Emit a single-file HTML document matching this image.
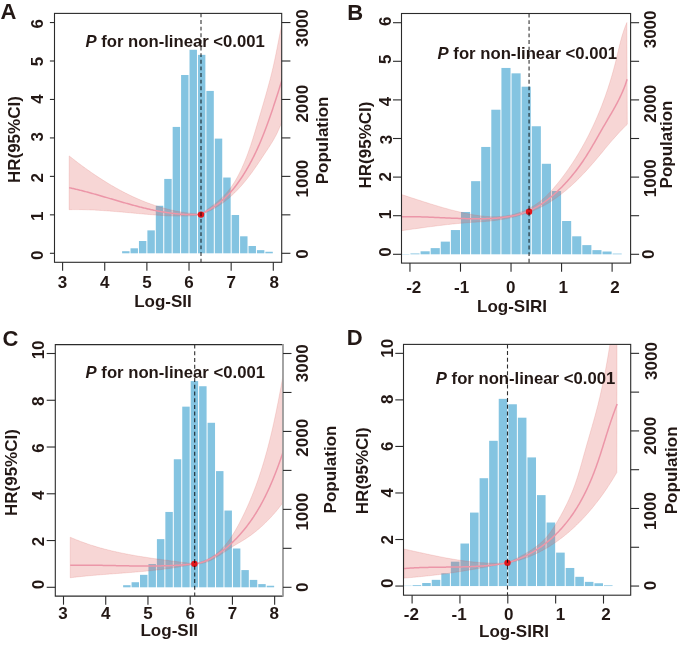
<!DOCTYPE html>
<html><head><meta charset="utf-8"><style>
html,body{margin:0;padding:0;background:#fff;}
svg{display:block;filter:blur(0.35px);}
text{font-family:"Liberation Sans",sans-serif;font-weight:bold;fill:#231815;}
</style></head><body>
<svg width="685" height="645" viewBox="0 0 685 645">
<rect width="685" height="645" fill="#fff"/>
<defs>
<clipPath id="clipA"><rect x="54.5" y="13.4" width="227.2" height="248.9"/></clipPath>
<clipPath id="clipB"><rect x="401.5" y="13.5" width="229.1" height="249.6"/></clipPath>
<clipPath id="clipC"><rect x="55.3" y="344.6" width="227.7" height="251.5"/></clipPath>
<clipPath id="clipD"><rect x="403.5" y="344.4" width="227.2" height="250.8"/></clipPath>
</defs>
<g clip-path="url(#clipA)">
<rect x="122.1" y="251.22" width="7.43" height="2.08" fill="#84c4e1"/>
<rect x="130.52" y="248.3" width="7.43" height="5" fill="#84c4e1"/>
<rect x="138.95" y="240.99" width="7.43" height="12.31" fill="#84c4e1"/>
<rect x="147.38" y="230.38" width="7.43" height="22.92" fill="#84c4e1"/>
<rect x="155.81" y="205.76" width="7.43" height="47.54" fill="#84c4e1"/>
<rect x="164.24" y="178.92" width="7.43" height="74.38" fill="#84c4e1"/>
<rect x="172.66" y="126.92" width="7.43" height="126.38" fill="#84c4e1"/>
<rect x="181.09" y="75" width="7.43" height="178.3" fill="#84c4e1"/>
<rect x="189.52" y="49.77" width="7.43" height="203.53" fill="#84c4e1"/>
<rect x="197.95" y="54.85" width="7.43" height="198.45" fill="#84c4e1"/>
<rect x="206.38" y="90.92" width="7.43" height="162.38" fill="#84c4e1"/>
<rect x="214.8" y="138.61" width="7.43" height="114.69" fill="#84c4e1"/>
<rect x="223.23" y="177.53" width="7.43" height="75.77" fill="#84c4e1"/>
<rect x="231.66" y="214.99" width="7.43" height="38.31" fill="#84c4e1"/>
<rect x="240.09" y="236.3" width="7.43" height="17" fill="#84c4e1"/>
<rect x="248.52" y="245.99" width="7.43" height="7.31" fill="#84c4e1"/>
<rect x="256.94" y="250.15" width="7.43" height="3.15" fill="#84c4e1"/>
<rect x="265.37" y="251.76" width="7.43" height="1.54" fill="#84c4e1"/>
<polygon points="69.17,155.9 69.89,156.47 70.61,157.04 71.33,157.61 72.05,158.17 72.78,158.74 73.5,159.3 74.23,159.87 74.96,160.43 75.69,160.99 76.42,161.55 77.15,162.11 77.89,162.66 78.62,163.22 79.36,163.77 80.1,164.33 80.84,164.88 81.58,165.43 82.32,165.98 83.07,166.52 83.81,167.07 84.56,167.61 85.31,168.15 86.06,168.69 86.81,169.23 87.56,169.77 88.31,170.3 89.07,170.84 89.83,171.37 90.58,171.9 91.34,172.43 92.1,172.95 92.87,173.48 93.63,174 94.4,174.52 95.16,175.04 95.93,175.55 96.7,176.07 97.47,176.58 98.24,177.09 99.02,177.6 99.79,178.1 100.57,178.61 101.35,179.11 102.12,179.61 102.91,180.1 103.69,180.6 104.47,181.09 105.26,181.58 106.04,182.07 106.83,182.55 107.62,183.03 108.41,183.51 109.2,183.99 110,184.46 110.79,184.94 111.59,185.4 112.38,185.87 113.18,186.34 113.98,186.8 114.79,187.25 115.59,187.71 116.39,188.16 117.2,188.61 118.01,189.06 118.82,189.5 119.63,189.95 120.44,190.38 121.25,190.82 122.07,191.25 122.88,191.68 123.7,192.11 124.52,192.53 125.34,192.95 126.16,193.37 126.98,193.78 127.81,194.19 128.64,194.6 129.46,195 130.29,195.4 131.12,195.8 131.95,196.19 132.79,196.58 133.62,196.97 134.46,197.35 135.3,197.73 136.13,198.11 136.97,198.48 137.82,198.85 138.66,199.21 139.5,199.58 140.35,199.93 141.2,200.29 142.05,200.64 142.9,200.99 143.75,201.33 144.6,201.67 145.46,202 146.31,202.33 147.17,202.66 148.03,202.99 148.89,203.31 149.75,203.62 150.61,203.93 151.48,204.24 152.34,204.54 153.21,204.84 154.08,205.14 154.95,205.43 155.82,205.72 156.7,206 157.57,206.28 158.45,206.55 159.32,206.82 160.2,207.09 161.08,207.35 161.96,207.6 162.85,207.86 163.73,208.11 164.62,208.35 165.5,208.59 166.39,208.82 167.28,209.05 168.17,209.28 169.07,209.5 169.96,209.72 170.85,209.93 171.75,210.14 172.65,210.34 173.55,210.54 174.45,210.73 175.35,210.92 176.25,211.1 177.16,211.28 178.07,211.46 178.97,211.63 179.88,211.79 180.79,211.95 181.7,212.11 182.62,212.26 183.53,212.4 184.44,212.54 185.36,212.68 186.28,212.81 187.2,212.93 188.12,213.05 189.04,213.17 189.96,213.28 190.89,213.38 191.81,213.48 192.74,213.58 193.67,213.67 194.6,213.75 195.53,213.83 196.46,213.91 197.4,213.97 198.33,214.04 199.27,214.09 200.2,214.15 201.14,214.19 202,213.5 203.1,212.63 204.22,211.76 205.35,210.91 206.48,210.05 207.61,209.21 208.75,208.36 209.89,207.51 211.02,206.67 212.16,205.81 213.28,204.96 214.41,204.09 215.52,203.22 216.62,202.34 217.71,201.44 218.78,200.53 219.84,199.6 220.89,198.66 221.91,197.7 222.92,196.73 223.91,195.73 224.88,194.72 225.84,193.69 226.77,192.65 227.68,191.58 228.57,190.5 229.44,189.39 230.28,188.27 231.11,187.13 231.92,185.98 232.71,184.81 233.48,183.62 234.23,182.43 234.97,181.22 235.69,180 236.4,178.77 237.09,177.53 237.77,176.28 238.43,175.02 239.09,173.76 239.73,172.49 240.36,171.21 240.97,169.93 241.58,168.64 242.17,167.35 242.75,166.06 243.32,164.75 243.88,163.45 244.44,162.14 244.98,160.83 245.51,159.51 246.03,158.2 246.54,156.88 247.05,155.55 247.55,154.23 248.04,152.9 248.52,151.57 248.99,150.24 249.46,148.91 249.92,147.57 250.38,146.23 250.83,144.89 251.27,143.55 251.71,142.21 252.14,140.87 252.57,139.52 253,138.17 253.42,136.83 253.83,135.48 254.25,134.13 254.66,132.78 255.07,131.42 255.48,130.07 255.88,128.72 256.28,127.36 256.69,126.01 257.09,124.65 257.49,123.3 257.89,121.94 258.29,120.59 258.69,119.23 259.09,117.87 259.49,116.52 259.9,115.16 260.3,113.8 260.7,112.45 261.1,111.09 261.5,109.73 261.9,108.38 262.3,107.02 262.7,105.66 263.1,104.3 263.5,102.94 263.9,101.58 264.29,100.22 264.69,98.86 265.08,97.5 265.47,96.14 265.86,94.78 266.25,93.42 266.63,92.06 267.01,90.69 267.39,89.33 267.77,87.97 268.14,86.6 268.52,85.24 268.88,83.87 269.25,82.5 269.61,81.13 269.97,79.77 270.33,78.4 270.68,77.02 271.02,75.65 271.37,74.28 271.71,72.91 272.04,71.53 272.37,70.16 272.7,68.78 273.02,67.4 273.34,66.03 273.65,64.65 273.96,63.27 274.26,61.88 274.56,60.5 274.85,59.12 275.14,57.74 275.43,56.35 275.71,54.96 276,53.58 276.28,52.19 276.55,50.81 276.83,49.42 277.1,48.03 277.37,46.64 277.64,45.25 277.91,43.86 278.18,42.47 278.45,41.09 278.72,39.7 278.99,38.31 279.26,36.92 279.53,35.53 279.8,34.14 280.07,32.75 280.35,31.37 280.62,29.98 280.9,28.59 281.18,27.2 281.46,25.82 281.75,24.43 282.04,23.05 282.33,21.66 282.63,20.28 282.93,18.9 283.23,17.52 283.54,16.13 283.85,14.75 284.17,13.38 284.49,12 284.38,114.93 284.11,115.74 283.83,116.54 283.55,117.34 283.28,118.14 282.99,118.94 282.71,119.74 282.42,120.53 282.12,121.32 281.83,122.11 281.53,122.9 281.22,123.68 280.91,124.46 280.6,125.24 280.28,126.02 279.96,126.79 279.63,127.56 279.3,128.33 278.96,129.1 278.62,129.86 278.27,130.62 277.92,131.38 277.57,132.14 277.21,132.89 276.84,133.64 276.47,134.38 276.09,135.13 275.71,135.87 275.32,136.61 274.92,137.34 274.52,138.07 274.12,138.8 273.7,139.52 273.29,140.25 272.86,140.97 272.43,141.68 272,142.4 271.57,143.11 271.13,143.82 270.68,144.53 270.23,145.23 269.78,145.94 269.33,146.64 268.88,147.35 268.42,148.05 267.96,148.75 267.5,149.45 267.04,150.15 266.57,150.85 266.11,151.55 265.65,152.24 265.18,152.94 264.72,153.64 264.26,154.34 263.79,155.04 263.33,155.74 262.87,156.44 262.4,157.14 261.94,157.84 261.48,158.54 261.01,159.24 260.55,159.94 260.08,160.64 259.61,161.34 259.15,162.04 258.68,162.73 258.21,163.43 257.74,164.13 257.27,164.82 256.79,165.51 256.32,166.21 255.84,166.9 255.36,167.59 254.88,168.28 254.4,168.97 253.92,169.66 253.43,170.34 252.94,171.03 252.45,171.71 251.96,172.39 251.47,173.07 250.97,173.75 250.47,174.43 249.97,175.1 249.46,175.77 248.95,176.44 248.44,177.11 247.93,177.78 247.41,178.44 246.89,179.1 246.36,179.76 245.84,180.42 245.31,181.07 244.77,181.72 244.24,182.37 243.7,183.01 243.15,183.66 242.61,184.3 242.05,184.93 241.5,185.56 240.94,186.19 240.38,186.82 239.82,187.44 239.25,188.06 238.68,188.68 238.11,189.29 237.53,189.9 236.95,190.5 236.36,191.1 235.77,191.7 235.18,192.29 234.58,192.88 233.98,193.46 233.38,194.04 232.77,194.61 232.16,195.18 231.54,195.75 230.92,196.31 230.29,196.87 229.67,197.42 229.03,197.96 228.4,198.5 227.76,199.04 227.11,199.57 226.47,200.1 225.81,200.62 225.16,201.13 224.49,201.64 223.83,202.14 223.16,202.64 222.48,203.13 221.81,203.61 221.12,204.09 220.44,204.57 219.74,205.03 219.05,205.5 218.35,205.95 217.64,206.4 216.93,206.84 216.22,207.27 215.5,207.7 214.77,208.12 214.05,208.54 213.31,208.95 212.58,209.35 211.83,209.74 211.08,210.13 210.33,210.51 209.58,210.88 208.81,211.24 208.05,211.6 207.27,211.95 206.5,212.29 205.71,212.62 204.93,212.95 204.14,213.27 203.34,213.58 202.54,213.88 201.73,214.17 201.03,214.89 200.2,214.99 199.37,215.09 198.54,215.18 197.72,215.26 196.89,215.35 196.06,215.42 195.23,215.5 194.4,215.56 193.58,215.63 192.75,215.69 191.92,215.74 191.09,215.79 190.26,215.84 189.44,215.88 188.61,215.92 187.78,215.96 186.95,215.99 186.12,216.02 185.29,216.04 184.46,216.06 183.64,216.08 182.81,216.09 181.98,216.1 181.15,216.11 180.32,216.11 179.49,216.11 178.66,216.11 177.84,216.1 177.01,216.09 176.18,216.08 175.35,216.06 174.52,216.05 173.69,216.03 172.86,216 172.03,215.98 171.2,215.95 170.38,215.92 169.55,215.89 168.72,215.85 167.89,215.81 167.06,215.77 166.23,215.73 165.4,215.69 164.57,215.64 163.74,215.59 162.91,215.55 162.08,215.49 161.25,215.44 160.43,215.39 159.6,215.33 158.77,215.27 157.94,215.21 157.11,215.15 156.28,215.09 155.45,215.03 154.62,214.97 153.79,214.9 152.96,214.84 152.13,214.77 151.3,214.7 150.47,214.63 149.64,214.57 148.82,214.5 147.99,214.43 147.16,214.36 146.33,214.28 145.5,214.21 144.67,214.14 143.84,214.07 143.01,213.99 142.18,213.92 141.35,213.85 140.52,213.77 139.69,213.7 138.86,213.62 138.03,213.55 137.2,213.47 136.37,213.4 135.54,213.32 134.72,213.25 133.89,213.17 133.06,213.09 132.23,213.02 131.4,212.94 130.57,212.87 129.74,212.79 128.91,212.72 128.08,212.64 127.25,212.57 126.42,212.49 125.59,212.42 124.76,212.34 123.93,212.27 123.1,212.19 122.27,212.12 121.44,212.05 120.61,211.98 119.78,211.9 118.95,211.83 118.12,211.76 117.29,211.69 116.46,211.62 115.63,211.55 114.8,211.48 113.97,211.41 113.14,211.35 112.31,211.28 111.48,211.22 110.65,211.15 109.82,211.09 108.99,211.02 108.16,210.96 107.33,210.9 106.5,210.84 105.67,210.78 104.84,210.72 104.01,210.67 103.18,210.61 102.35,210.56 101.52,210.5 100.69,210.45 99.86,210.4 99.03,210.35 98.2,210.3 97.37,210.26 96.54,210.21 95.7,210.17 94.87,210.12 94.04,210.08 93.21,210.04 92.38,210 91.55,209.97 90.72,209.93 89.89,209.9 89.06,209.87 88.23,209.83 87.4,209.81 86.56,209.78 85.73,209.75 84.9,209.73 84.07,209.71 83.24,209.69 82.41,209.67 81.58,209.66 80.75,209.64 79.91,209.63 79.08,209.62 78.25,209.62 77.42,209.61 76.59,209.61 75.76,209.61 74.93,209.61 74.09,209.61 73.26,209.62 72.43,209.62 71.6,209.63 70.77,209.65 69.93,209.66 69.1,209.68" fill="rgba(222,90,88,0.25)" stroke="rgba(222,90,88,0.25)" stroke-width="0.7"/>
<polyline points="69.16,187.7 69.98,187.87 70.81,188.05 71.63,188.23 72.46,188.42 73.28,188.6 74.11,188.79 74.93,188.98 75.76,189.18 76.58,189.37 77.4,189.57 78.22,189.77 79.05,189.97 79.87,190.17 80.69,190.38 81.51,190.58 82.33,190.79 83.16,191 83.98,191.21 84.8,191.43 85.62,191.64 86.44,191.86 87.26,192.08 88.08,192.3 88.9,192.52 89.72,192.74 90.54,192.97 91.36,193.19 92.17,193.42 92.99,193.64 93.81,193.87 94.63,194.1 95.45,194.33 96.27,194.57 97.09,194.8 97.9,195.03 98.72,195.27 99.54,195.5 100.36,195.74 101.17,195.97 101.99,196.21 102.81,196.45 103.63,196.69 104.45,196.93 105.26,197.16 106.08,197.4 106.9,197.64 107.72,197.88 108.53,198.12 109.35,198.36 110.17,198.6 110.99,198.84 111.8,199.08 112.62,199.33 113.44,199.57 114.26,199.81 115.07,200.05 115.89,200.29 116.71,200.53 117.53,200.76 118.34,201 119.16,201.24 119.98,201.48 120.8,201.72 121.62,201.95 122.44,202.19 123.26,202.42 124.07,202.66 124.89,202.89 125.71,203.13 126.53,203.36 127.35,203.59 128.17,203.82 128.99,204.05 129.81,204.28 130.63,204.5 131.45,204.73 132.27,204.95 133.09,205.18 133.92,205.4 134.74,205.62 135.56,205.84 136.38,206.06 137.2,206.27 138.03,206.49 138.85,206.7 139.67,206.91 140.5,207.12 141.32,207.33 142.14,207.53 142.97,207.74 143.79,207.94 144.62,208.14 145.44,208.34 146.27,208.53 147.1,208.72 147.92,208.92 148.75,209.1 149.58,209.29 150.4,209.48 151.23,209.66 152.06,209.84 152.89,210.01 153.72,210.19 154.55,210.36 155.38,210.53 156.21,210.7 157.04,210.86 157.87,211.02 158.7,211.18 159.54,211.34 160.37,211.49 161.2,211.64 162.04,211.79 162.87,211.93 163.71,212.07 164.54,212.21 165.38,212.34 166.22,212.47 167.05,212.6 167.89,212.72 168.73,212.84 169.57,212.96 170.41,213.07 171.25,213.18 172.09,213.29 172.93,213.39 173.77,213.49 174.62,213.58 175.46,213.67 176.3,213.76 177.15,213.84 177.99,213.92 178.84,214 179.69,214.07 180.53,214.14 181.38,214.2 182.23,214.26 183.08,214.31 183.93,214.36 184.78,214.41 185.63,214.45 186.48,214.48 187.34,214.52 188.19,214.54 189.04,214.57 189.9,214.58 190.75,214.6 191.61,214.61 192.47,214.61 193.33,214.61 194.19,214.6 195.05,214.59 195.91,214.57 196.77,214.55 197.63,214.53 198.49,214.5 199.36,214.46 200.22,214.42 201.09,214.37 201.76,213.8 202.72,213.3 203.67,212.8 204.62,212.29 205.57,211.77 206.51,211.25 207.45,210.72 208.38,210.18 209.31,209.63 210.23,209.08 211.14,208.52 212.05,207.95 212.95,207.38 213.85,206.79 214.74,206.2 215.62,205.59 216.49,204.97 217.35,204.35 218.2,203.71 219.04,203.06 219.87,202.4 220.7,201.74 221.51,201.05 222.31,200.36 223.11,199.66 223.89,198.95 224.67,198.23 225.43,197.5 226.19,196.76 226.94,196.02 227.68,195.26 228.42,194.5 229.14,193.72 229.86,192.94 230.56,192.15 231.26,191.36 231.96,190.55 232.64,189.74 233.32,188.92 233.99,188.1 234.65,187.27 235.3,186.43 235.95,185.59 236.59,184.74 237.23,183.89 237.86,183.03 238.48,182.16 239.09,181.29 239.7,180.42 240.31,179.54 240.9,178.66 241.49,177.77 242.08,176.88 242.66,175.99 243.23,175.09 243.8,174.19 244.37,173.29 244.93,172.38 245.48,171.47 246.03,170.56 246.57,169.64 247.11,168.73 247.64,167.8 248.17,166.88 248.69,165.95 249.21,165.02 249.72,164.09 250.23,163.16 250.74,162.22 251.24,161.28 251.73,160.34 252.22,159.39 252.71,158.44 253.19,157.49 253.67,156.54 254.14,155.59 254.61,154.63 255.08,153.67 255.54,152.71 255.99,151.74 256.45,150.78 256.9,149.81 257.34,148.84 257.78,147.87 258.22,146.9 258.66,145.92 259.09,144.94 259.51,143.96 259.94,142.98 260.36,142 260.78,141.02 261.19,140.03 261.6,139.04 262.01,138.05 262.41,137.06 262.81,136.07 263.21,135.08 263.61,134.08 264,133.09 264.39,132.09 264.77,131.09 265.16,130.09 265.54,129.09 265.92,128.09 266.29,127.08 266.67,126.08 267.04,125.07 267.41,124.07 267.78,123.06 268.14,122.05 268.5,121.04 268.86,120.04 269.22,119.03 269.58,118.01 269.93,117 270.28,115.99 270.63,114.98 270.98,113.97 271.33,112.95 271.67,111.94 272.02,110.92 272.36,109.91 272.7,108.9 273.04,107.88 273.38,106.87 273.71,105.85 274.05,104.83 274.38,103.82 274.72,102.8 275.05,101.79 275.38,100.77 275.71,99.76 276.04,98.74 276.37,97.73 276.69,96.71 277.02,95.7 277.35,94.69 277.67,93.67 278,92.66 278.32,91.65 278.65,90.63 278.97,89.62 279.29,88.61 279.62,87.6 279.94,86.59 280.26,85.58 280.58,84.58 280.91,83.57 281.23,82.56 281.55,81.56 281.87,80.55 282.2,79.55 282.52,78.55 282.84,77.54 283.17,76.54 283.49,75.55 283.82,74.55 284.14,73.55 284.47,72.56" fill="none" stroke="#ec96a8" stroke-width="1.5" stroke-linejoin="round"/>
</g>
<circle cx="201.0" cy="214.6" r="3.2" fill="#e3161b"/>
<line x1="201.0" y1="13.4" x2="201.0" y2="262.3" stroke="#000" stroke-opacity="0.52" stroke-width="1.7" stroke-dasharray="3.9 2.73"/>
<rect x="54.5" y="13.4" width="227.2" height="248.9" fill="none" stroke="#2b2b2b" stroke-width="1.1"/>
<line x1="62.6" y1="262.3" x2="62.6" y2="270.7" stroke="#2b2b2b" stroke-width="1.1"/>
<text x="62.4" y="287.7" text-anchor="middle" font-size="17">3</text>
<line x1="104.74" y1="262.3" x2="104.74" y2="270.7" stroke="#2b2b2b" stroke-width="1.1"/>
<text x="104.74" y="287.7" text-anchor="middle" font-size="17">4</text>
<line x1="146.88" y1="262.3" x2="146.88" y2="270.7" stroke="#2b2b2b" stroke-width="1.1"/>
<text x="146.88" y="287.7" text-anchor="middle" font-size="17">5</text>
<line x1="189.02" y1="262.3" x2="189.02" y2="270.7" stroke="#2b2b2b" stroke-width="1.1"/>
<text x="189.02" y="287.7" text-anchor="middle" font-size="17">6</text>
<line x1="231.16" y1="262.3" x2="231.16" y2="270.7" stroke="#2b2b2b" stroke-width="1.1"/>
<text x="231.16" y="287.7" text-anchor="middle" font-size="17">7</text>
<line x1="273.3" y1="262.3" x2="273.3" y2="270.7" stroke="#2b2b2b" stroke-width="1.1"/>
<text x="274.2" y="287.7" text-anchor="middle" font-size="17">8</text>
<line x1="49.9" y1="253.3" x2="54.5" y2="253.3" stroke="#2b2b2b" stroke-width="1.1"/>
<text x="42.8" y="255.3" text-anchor="middle" font-size="17" transform="rotate(-90 42.8 255.3)">0</text>
<line x1="49.9" y1="214.84" x2="54.5" y2="214.84" stroke="#2b2b2b" stroke-width="1.1"/>
<text x="42.8" y="216.24" text-anchor="middle" font-size="17" transform="rotate(-90 42.8 216.24)">1</text>
<line x1="49.9" y1="176.38" x2="54.5" y2="176.38" stroke="#2b2b2b" stroke-width="1.1"/>
<text x="42.8" y="177.88" text-anchor="middle" font-size="17" transform="rotate(-90 42.8 177.88)">2</text>
<line x1="49.9" y1="137.92" x2="54.5" y2="137.92" stroke="#2b2b2b" stroke-width="1.1"/>
<text x="42.8" y="136.72" text-anchor="middle" font-size="17" transform="rotate(-90 42.8 136.72)">3</text>
<line x1="49.9" y1="99.46" x2="54.5" y2="99.46" stroke="#2b2b2b" stroke-width="1.1"/>
<text x="42.8" y="99.06" text-anchor="middle" font-size="17" transform="rotate(-90 42.8 99.06)">4</text>
<line x1="49.9" y1="61" x2="54.5" y2="61" stroke="#2b2b2b" stroke-width="1.1"/>
<text x="42.8" y="61.6" text-anchor="middle" font-size="17" transform="rotate(-90 42.8 61.6)">5</text>
<line x1="49.9" y1="22.54" x2="54.5" y2="22.54" stroke="#2b2b2b" stroke-width="1.1"/>
<text x="42.8" y="23.84" text-anchor="middle" font-size="17" transform="rotate(-90 42.8 23.84)">6</text>
<line x1="281.7" y1="253.3" x2="290.4" y2="253.3" stroke="#2b2b2b" stroke-width="1.1"/>
<text x="307.8" y="254.1" text-anchor="middle" font-size="17" transform="rotate(-90 307.8 254.1)">0</text>
<line x1="281.7" y1="214.84" x2="290.4" y2="214.84" stroke="#2b2b2b" stroke-width="1.1"/>
<line x1="281.7" y1="176.38" x2="290.4" y2="176.38" stroke="#2b2b2b" stroke-width="1.1"/>
<text x="307.8" y="178.58" text-anchor="middle" font-size="17" transform="rotate(-90 307.8 178.58)">1000</text>
<line x1="281.7" y1="137.92" x2="290.4" y2="137.92" stroke="#2b2b2b" stroke-width="1.1"/>
<line x1="281.7" y1="99.46" x2="290.4" y2="99.46" stroke="#2b2b2b" stroke-width="1.1"/>
<text x="307.8" y="103.66" text-anchor="middle" font-size="17" transform="rotate(-90 307.8 103.66)">2000</text>
<line x1="281.7" y1="61" x2="290.4" y2="61" stroke="#2b2b2b" stroke-width="1.1"/>
<line x1="281.7" y1="22.54" x2="290.4" y2="22.54" stroke="#2b2b2b" stroke-width="1.1"/>
<text x="307.8" y="28.14" text-anchor="middle" font-size="17" transform="rotate(-90 307.8 28.14)">3000</text>
<text x="163" y="306.5" text-anchor="middle" font-size="17">Log-SII</text>
<text x="20.4" y="139.6" text-anchor="middle" font-size="17" transform="rotate(-90 20.4 139.6)">HR(95%CI)</text>
<text x="328.4" y="140.4" text-anchor="middle" font-size="17" transform="rotate(-90 328.4 140.4)">Population</text>
<text x="85.4" y="46.8" font-size="16.7"><tspan font-style="italic">P</tspan> for non-linear &lt;0.001</text>
<text x="0.6" y="18.6" font-size="22">A</text>
<g clip-path="url(#clipB)">
<rect x="400.34" y="253.99" width="9.11" height="0.31" fill="#84c4e1"/>
<rect x="410.45" y="253.45" width="9.11" height="0.85" fill="#84c4e1"/>
<rect x="420.56" y="251.29" width="9.11" height="3.01" fill="#84c4e1"/>
<rect x="430.67" y="248.12" width="9.11" height="6.18" fill="#84c4e1"/>
<rect x="440.77" y="241.63" width="9.11" height="12.67" fill="#84c4e1"/>
<rect x="450.88" y="230.05" width="9.11" height="24.25" fill="#84c4e1"/>
<rect x="460.99" y="211.98" width="9.11" height="42.32" fill="#84c4e1"/>
<rect x="471.1" y="181.16" width="9.11" height="73.14" fill="#84c4e1"/>
<rect x="481.21" y="146.95" width="9.11" height="107.35" fill="#84c4e1"/>
<rect x="491.31" y="109.72" width="9.11" height="144.58" fill="#84c4e1"/>
<rect x="501.42" y="67.94" width="9.11" height="186.36" fill="#84c4e1"/>
<rect x="511.53" y="73.34" width="9.11" height="180.96" fill="#84c4e1"/>
<rect x="521.64" y="86.7" width="9.11" height="167.6" fill="#84c4e1"/>
<rect x="531.75" y="126.25" width="9.11" height="128.05" fill="#84c4e1"/>
<rect x="541.85" y="163.78" width="9.11" height="90.52" fill="#84c4e1"/>
<rect x="551.96" y="191.05" width="9.11" height="63.25" fill="#84c4e1"/>
<rect x="562.07" y="221.01" width="9.11" height="33.29" fill="#84c4e1"/>
<rect x="572.18" y="236.3" width="9.11" height="18" fill="#84c4e1"/>
<rect x="582.29" y="245.11" width="9.11" height="9.19" fill="#84c4e1"/>
<rect x="592.39" y="250.13" width="9.11" height="4.17" fill="#84c4e1"/>
<rect x="602.5" y="251.52" width="9.11" height="2.78" fill="#84c4e1"/>
<rect x="612.61" y="253.6" width="9.11" height="0.7" fill="#84c4e1"/>
<polygon points="401.51,194.53 403.59,195.2 405.67,195.87 407.74,196.54 409.82,197.22 411.89,197.89 413.97,198.57 416.04,199.24 418.11,199.92 420.18,200.59 422.25,201.26 424.32,201.92 426.39,202.58 428.47,203.24 430.54,203.89 432.62,204.53 434.69,205.17 436.77,205.8 438.86,206.42 440.94,207.03 443.03,207.64 445.13,208.23 447.22,208.81 449.32,209.38 451.43,209.93 453.54,210.48 455.66,211.01 457.78,211.52 459.9,212.02 462.04,212.5 464.18,212.97 466.32,213.41 468.48,213.84 470.64,214.25 472.81,214.64 474.98,215.01 477.16,215.35 479.35,215.66 481.54,215.94 483.73,216.18 485.92,216.38 488.11,216.54 490.3,216.66 492.49,216.73 494.68,216.74 496.86,216.7 499.04,216.6 501.21,216.45 503.37,216.23 505.53,215.95 507.68,215.6 509.81,215.2 511.93,214.73 514.03,214.21 516.12,213.62 518.19,212.98 520.23,212.28 522.26,211.51 524.26,210.69 526.23,209.81 528.18,208.88 530.1,207.88 531.98,206.83 533.84,205.72 535.66,204.55 537.44,203.33 539.19,202.05 540.9,200.72 542.57,199.34 544.2,197.9 545.8,196.42 547.36,194.9 548.89,193.34 550.4,191.75 551.88,190.13 553.33,188.48 554.77,186.81 556.18,185.12 557.57,183.41 558.95,181.7 560.31,179.97 561.65,178.23 562.98,176.49 564.29,174.73 565.59,172.96 566.87,171.18 568.13,169.39 569.38,167.59 570.61,165.79 571.83,163.97 573.03,162.14 574.22,160.31 575.39,158.46 576.55,156.61 577.69,154.75 578.81,152.88 579.92,151 581.02,149.12 582.1,147.22 583.17,145.32 584.23,143.41 585.26,141.49 586.29,139.57 587.3,137.64 588.3,135.7 589.28,133.76 590.25,131.81 591.2,129.85 592.15,127.88 593.07,125.91 593.99,123.94 594.89,121.95 595.78,119.97 596.65,117.97 597.52,115.97 598.36,113.97 599.2,111.96 600.02,109.94 600.83,107.92 601.63,105.9 602.41,103.87 603.18,101.83 603.94,99.79 604.69,97.74 605.42,95.69 606.14,93.64 606.85,91.57 607.55,89.51 608.23,87.44 608.9,85.37 609.56,83.29 610.2,81.21 610.84,79.12 611.46,77.03 612.07,74.93 612.67,72.84 613.25,70.73 613.82,68.63 614.39,66.52 614.94,64.4 615.47,62.28 616,60.16 616.51,58.04 617.02,55.91 617.52,53.79 618.02,51.66 618.53,49.53 619.04,47.41 619.55,45.28 620.09,43.17 620.63,41.06 621.2,38.95 621.79,36.85 622.41,34.76 623.06,32.68 623.74,30.61 624.46,28.56 625.22,26.51 626.03,24.48 626.88,22.47 627.31,124.22 626.12,125.4 624.95,126.58 623.78,127.76 622.62,128.95 621.48,130.15 620.34,131.34 619.21,132.55 618.09,133.75 616.97,134.97 615.87,136.18 614.78,137.41 613.69,138.64 612.61,139.87 611.54,141.11 610.48,142.35 609.42,143.59 608.37,144.84 607.32,146.1 606.27,147.35 605.23,148.61 604.18,149.87 603.14,151.13 602.1,152.39 601.05,153.65 600.01,154.91 598.95,156.18 597.9,157.44 596.84,158.7 595.78,159.96 594.7,161.22 593.63,162.47 592.54,163.72 591.45,164.97 590.35,166.22 589.24,167.46 588.13,168.7 587.01,169.93 585.89,171.16 584.75,172.38 583.61,173.6 582.46,174.8 581.3,176 580.14,177.2 578.96,178.38 577.78,179.56 576.59,180.73 575.39,181.88 574.18,183.03 572.97,184.17 571.74,185.3 570.51,186.41 569.27,187.52 568.02,188.61 566.76,189.69 565.49,190.75 564.21,191.81 562.92,192.85 561.62,193.87 560.31,194.88 558.99,195.87 557.67,196.85 556.33,197.81 554.98,198.76 553.62,199.68 552.25,200.59 550.87,201.49 549.48,202.36 548.08,203.21 546.67,204.05 545.24,204.87 543.81,205.66 542.36,206.43 540.91,207.19 539.44,207.92 537.96,208.63 536.47,209.32 534.96,209.98 533.45,210.63 531.93,211.25 530.4,211.86 528.86,212.44 527.31,213 525.75,213.55 524.18,214.07 522.61,214.58 521.03,215.06 519.44,215.53 517.85,215.98 516.24,216.41 514.64,216.82 513.03,217.21 511.41,217.59 509.79,217.95 508.16,218.29 506.54,218.62 504.9,218.93 503.27,219.22 501.63,219.5 499.99,219.76 498.35,220.01 496.7,220.24 495.06,220.46 493.41,220.66 491.77,220.85 490.12,221.02 488.47,221.18 486.83,221.33 485.18,221.47 483.54,221.6 481.9,221.72 480.25,221.83 478.61,221.94 476.96,222.05 475.32,222.16 473.68,222.26 472.03,222.37 470.39,222.49 468.75,222.6 467.1,222.73 465.46,222.86 463.82,222.99 462.17,223.14 460.53,223.28 458.89,223.43 457.25,223.59 455.6,223.75 453.96,223.91 452.32,224.08 450.67,224.26 449.03,224.44 447.39,224.62 445.75,224.8 444.11,224.99 442.46,225.19 440.82,225.38 439.18,225.58 437.54,225.79 435.9,225.99 434.26,226.2 432.62,226.41 430.98,226.62 429.34,226.84 427.7,227.06 426.06,227.28 424.42,227.5 422.78,227.72 421.14,227.95 419.5,228.17 417.86,228.4 416.22,228.63 414.59,228.86 412.95,229.09 411.31,229.32 409.68,229.55 408.04,229.79 406.4,230.02 404.77,230.25 403.13,230.48 401.5,230.72" fill="rgba(222,90,88,0.25)" stroke="rgba(222,90,88,0.25)" stroke-width="0.7"/>
<polyline points="401.47,216.68 403.35,216.66 405.22,216.65 407.1,216.64 408.97,216.65 410.83,216.66 412.7,216.69 414.57,216.72 416.43,216.75 418.29,216.79 420.15,216.84 422.01,216.9 423.87,216.96 425.73,217.02 427.59,217.09 429.44,217.16 431.3,217.24 433.15,217.31 435.01,217.39 436.86,217.47 438.72,217.56 440.57,217.64 442.42,217.72 444.28,217.81 446.13,217.89 447.99,217.97 449.84,218.05 451.7,218.13 453.55,218.21 455.41,218.28 457.26,218.35 459.12,218.42 460.98,218.48 462.84,218.54 464.7,218.59 466.56,218.63 468.42,218.67 470.29,218.71 472.15,218.73 474.02,218.75 475.89,218.76 477.76,218.76 479.63,218.76 481.51,218.74 483.39,218.71 485.26,218.68 487.14,218.62 489.01,218.56 490.89,218.48 492.76,218.38 494.63,218.26 496.5,218.13 498.36,217.97 500.22,217.79 502.08,217.59 503.92,217.36 505.76,217.11 507.6,216.83 509.42,216.53 511.24,216.19 513.05,215.82 514.85,215.42 516.63,214.99 518.41,214.52 520.17,214.02 521.92,213.48 523.66,212.9 525.38,212.28 527.09,211.62 528.79,210.92 530.47,210.18 532.13,209.39 533.77,208.56 535.4,207.7 537.01,206.79 538.61,205.85 540.19,204.88 541.76,203.86 543.3,202.82 544.84,201.75 546.35,200.64 547.85,199.51 549.33,198.35 550.8,197.16 552.24,195.95 553.68,194.72 555.09,193.47 556.49,192.19 557.87,190.9 559.23,189.58 560.58,188.26 561.91,186.91 563.23,185.56 564.52,184.19 565.8,182.81 567.06,181.42 568.31,180.03 569.54,178.62 570.75,177.2 571.95,175.77 573.13,174.34 574.29,172.89 575.44,171.43 576.57,169.97 577.69,168.49 578.79,167 579.88,165.51 580.95,164 582.01,162.49 583.05,160.96 584.08,159.42 585.1,157.88 586.1,156.32 587.09,154.76 588.07,153.19 589.04,151.61 590,150.02 590.96,148.43 591.9,146.84 592.84,145.23 593.78,143.63 594.71,142.02 595.63,140.41 596.56,138.79 597.48,137.18 598.4,135.56 599.32,133.94 600.25,132.32 601.18,130.71 602.1,129.09 603.04,127.48 603.98,125.87 604.92,124.27 605.87,122.66 606.81,121.06 607.76,119.45 608.71,117.85 609.65,116.24 610.59,114.63 611.52,113.03 612.45,111.41 613.37,109.8 614.28,108.18 615.18,106.55 616.07,104.92 616.95,103.28 617.81,101.64 618.65,99.99 619.48,98.33 620.29,96.66 621.08,94.98 621.85,93.3 622.59,91.6 623.31,89.89 624.01,88.16 624.68,86.43 625.33,84.68 625.94,82.91 626.52,81.14 627.07,79.34" fill="none" stroke="#ec96a8" stroke-width="1.5" stroke-linejoin="round"/>
</g>
<circle cx="529.05" cy="211.65" r="3.2" fill="#e3161b"/>
<line x1="529.1" y1="13.5" x2="529.1" y2="263.1" stroke="#000" stroke-opacity="0.52" stroke-width="1.7" stroke-dasharray="3.9 2.73"/>
<rect x="401.5" y="13.5" width="229.1" height="249.6" fill="none" stroke="#2b2b2b" stroke-width="1.1"/>
<line x1="409.95" y1="263.1" x2="409.95" y2="271.7" stroke="#2b2b2b" stroke-width="1.1"/>
<text x="413.7" y="293.1" text-anchor="middle" font-size="17">-2</text>
<line x1="460.49" y1="263.1" x2="460.49" y2="271.7" stroke="#2b2b2b" stroke-width="1.1"/>
<text x="461.59" y="293.1" text-anchor="middle" font-size="17">-1</text>
<line x1="511.03" y1="263.1" x2="511.03" y2="271.7" stroke="#2b2b2b" stroke-width="1.1"/>
<text x="510.83" y="293.1" text-anchor="middle" font-size="17">0</text>
<line x1="561.57" y1="263.1" x2="561.57" y2="271.7" stroke="#2b2b2b" stroke-width="1.1"/>
<text x="563.27" y="293.1" text-anchor="middle" font-size="17">1</text>
<line x1="612.11" y1="263.1" x2="612.11" y2="271.7" stroke="#2b2b2b" stroke-width="1.1"/>
<text x="614.91" y="293.1" text-anchor="middle" font-size="17">2</text>
<line x1="393.0" y1="254.3" x2="401.5" y2="254.3" stroke="#2b2b2b" stroke-width="1.1"/>
<text x="391.5" y="251.9" text-anchor="middle" font-size="17" transform="rotate(-90 391.5 251.9)">0</text>
<line x1="393.0" y1="215.7" x2="401.5" y2="215.7" stroke="#2b2b2b" stroke-width="1.1"/>
<text x="391.5" y="214.4" text-anchor="middle" font-size="17" transform="rotate(-90 391.5 214.4)">1</text>
<line x1="393.0" y1="177.1" x2="401.5" y2="177.1" stroke="#2b2b2b" stroke-width="1.1"/>
<text x="391.5" y="176.8" text-anchor="middle" font-size="17" transform="rotate(-90 391.5 176.8)">2</text>
<line x1="393.0" y1="138.5" x2="401.5" y2="138.5" stroke="#2b2b2b" stroke-width="1.1"/>
<text x="391.5" y="139.5" text-anchor="middle" font-size="17" transform="rotate(-90 391.5 139.5)">3</text>
<line x1="393.0" y1="99.9" x2="401.5" y2="99.9" stroke="#2b2b2b" stroke-width="1.1"/>
<text x="391.5" y="101.4" text-anchor="middle" font-size="17" transform="rotate(-90 391.5 101.4)">4</text>
<line x1="393.0" y1="61.3" x2="401.5" y2="61.3" stroke="#2b2b2b" stroke-width="1.1"/>
<text x="391.5" y="59.3" text-anchor="middle" font-size="17" transform="rotate(-90 391.5 59.3)">5</text>
<line x1="393.0" y1="22.7" x2="401.5" y2="22.7" stroke="#2b2b2b" stroke-width="1.1"/>
<text x="391.5" y="21.3" text-anchor="middle" font-size="17" transform="rotate(-90 391.5 21.3)">6</text>
<line x1="630.6" y1="254.3" x2="639.1" y2="254.3" stroke="#2b2b2b" stroke-width="1.1"/>
<text x="654.5" y="254.3" text-anchor="middle" font-size="17" transform="rotate(-90 654.5 254.3)">0</text>
<line x1="630.6" y1="215.7" x2="639.1" y2="215.7" stroke="#2b2b2b" stroke-width="1.1"/>
<line x1="630.6" y1="177.1" x2="639.1" y2="177.1" stroke="#2b2b2b" stroke-width="1.1"/>
<text x="655.7" y="178.3" text-anchor="middle" font-size="17" transform="rotate(-90 655.7 178.3)">1000</text>
<line x1="630.6" y1="138.5" x2="639.1" y2="138.5" stroke="#2b2b2b" stroke-width="1.1"/>
<line x1="630.6" y1="99.9" x2="639.1" y2="99.9" stroke="#2b2b2b" stroke-width="1.1"/>
<text x="655.7" y="103.8" text-anchor="middle" font-size="17" transform="rotate(-90 655.7 103.8)">2000</text>
<line x1="630.6" y1="61.3" x2="639.1" y2="61.3" stroke="#2b2b2b" stroke-width="1.1"/>
<line x1="630.6" y1="22.7" x2="639.1" y2="22.7" stroke="#2b2b2b" stroke-width="1.1"/>
<text x="655.7" y="29.4" text-anchor="middle" font-size="17" transform="rotate(-90 655.7 29.4)">3000</text>
<text x="512" y="312.2" text-anchor="middle" font-size="17">Log-SIRI</text>
<text x="370.5" y="145" text-anchor="middle" font-size="17" transform="rotate(-90 370.5 145)">HR(95%CI)</text>
<text x="672.4" y="144.5" text-anchor="middle" font-size="17" transform="rotate(-90 672.4 144.5)">Population</text>
<text x="437.6" y="59.3" font-size="16.7"><tspan font-style="italic">P</tspan> for non-linear &lt;0.001</text>
<text x="347.3" y="19.9" font-size="22">B</text>
<g clip-path="url(#clipC)">
<rect x="123.12" y="585.2" width="7.45" height="2.1" fill="#84c4e1"/>
<rect x="131.57" y="582.23" width="7.45" height="5.07" fill="#84c4e1"/>
<rect x="140.01" y="574.83" width="7.45" height="12.47" fill="#84c4e1"/>
<rect x="148.46" y="564.08" width="7.45" height="23.22" fill="#84c4e1"/>
<rect x="156.91" y="539.14" width="7.45" height="48.16" fill="#84c4e1"/>
<rect x="165.35" y="511.94" width="7.45" height="75.36" fill="#84c4e1"/>
<rect x="173.8" y="459.26" width="7.45" height="128.04" fill="#84c4e1"/>
<rect x="182.24" y="406.65" width="7.45" height="180.65" fill="#84c4e1"/>
<rect x="190.69" y="381.09" width="7.45" height="206.21" fill="#84c4e1"/>
<rect x="199.14" y="386.23" width="7.45" height="201.07" fill="#84c4e1"/>
<rect x="207.58" y="422.78" width="7.45" height="164.52" fill="#84c4e1"/>
<rect x="216.03" y="471.1" width="7.45" height="116.2" fill="#84c4e1"/>
<rect x="224.47" y="510.54" width="7.45" height="76.76" fill="#84c4e1"/>
<rect x="232.92" y="548.49" width="7.45" height="38.81" fill="#84c4e1"/>
<rect x="241.37" y="570.08" width="7.45" height="17.22" fill="#84c4e1"/>
<rect x="249.81" y="579.9" width="7.45" height="7.4" fill="#84c4e1"/>
<rect x="258.26" y="584.1" width="7.45" height="3.2" fill="#84c4e1"/>
<rect x="266.7" y="585.74" width="7.45" height="1.56" fill="#84c4e1"/>
<polygon points="70.19,537.19 70.93,537.51 71.67,537.83 72.41,538.15 73.15,538.46 73.9,538.77 74.64,539.08 75.39,539.39 76.13,539.69 76.88,539.99 77.63,540.29 78.38,540.58 79.13,540.87 79.88,541.16 80.63,541.44 81.38,541.72 82.14,542 82.89,542.28 83.64,542.55 84.4,542.82 85.16,543.09 85.91,543.35 86.67,543.62 87.43,543.88 88.19,544.13 88.95,544.39 89.71,544.64 90.47,544.89 91.23,545.13 91.99,545.38 92.76,545.62 93.52,545.86 94.29,546.09 95.05,546.33 95.82,546.56 96.59,546.79 97.35,547.02 98.12,547.24 98.89,547.46 99.66,547.68 100.43,547.9 101.2,548.11 101.97,548.33 102.74,548.54 103.52,548.75 104.29,548.95 105.06,549.16 105.84,549.36 106.61,549.56 107.39,549.75 108.16,549.95 108.94,550.14 109.72,550.33 110.5,550.52 111.27,550.71 112.05,550.9 112.83,551.08 113.61,551.26 114.39,551.44 115.17,551.62 115.95,551.8 116.73,551.97 117.52,552.14 118.3,552.31 119.08,552.48 119.86,552.65 120.65,552.81 121.43,552.98 122.22,553.14 123,553.3 123.79,553.46 124.57,553.62 125.36,553.77 126.15,553.93 126.93,554.08 127.72,554.23 128.51,554.38 129.3,554.53 130.08,554.67 130.87,554.82 131.66,554.96 132.45,555.11 133.24,555.25 134.03,555.39 134.82,555.53 135.61,555.66 136.4,555.8 137.19,555.93 137.99,556.07 138.78,556.2 139.57,556.33 140.36,556.46 141.15,556.59 141.95,556.72 142.74,556.85 143.53,556.97 144.32,557.1 145.12,557.22 145.91,557.34 146.71,557.46 147.5,557.59 148.29,557.71 149.09,557.82 149.88,557.94 150.68,558.06 151.47,558.18 152.27,558.29 153.06,558.41 153.86,558.52 154.65,558.64 155.45,558.75 156.24,558.86 157.04,558.97 157.83,559.08 158.63,559.19 159.42,559.3 160.22,559.41 161.01,559.52 161.81,559.63 162.61,559.74 163.4,559.84 164.2,559.95 164.99,560.06 165.79,560.16 166.58,560.27 167.38,560.37 168.18,560.48 168.97,560.58 169.77,560.69 170.56,560.79 171.36,560.89 172.15,561 172.95,561.1 173.74,561.2 174.54,561.31 175.33,561.41 176.13,561.51 176.92,561.61 177.72,561.72 178.51,561.82 179.31,561.92 180.1,562.02 180.9,562.13 181.69,562.23 182.48,562.33 183.28,562.43 184.07,562.54 184.87,562.64 185.66,562.74 186.45,562.85 187.24,562.95 188.04,563.05 188.83,563.16 189.62,563.26 190.41,563.37 191.2,563.47 192,563.58 192.79,563.68 193.58,563.79 194.37,563.89 195.74,563.47 197.2,563.11 198.65,562.71 200.07,562.27 201.48,561.79 202.86,561.28 204.23,560.72 205.58,560.14 206.91,559.51 208.21,558.85 209.5,558.16 210.76,557.43 212,556.67 213.21,555.88 214.41,555.06 215.57,554.2 216.72,553.32 217.83,552.42 218.93,551.48 219.99,550.52 221.03,549.53 222.05,548.52 223.04,547.49 224.01,546.43 224.96,545.35 225.89,544.25 226.8,543.13 227.68,542 228.55,540.84 229.4,539.67 230.24,538.49 231.05,537.29 231.86,536.07 232.64,534.85 233.41,533.61 234.17,532.36 234.92,531.11 235.66,529.84 236.38,528.57 237.09,527.29 237.8,526.01 238.49,524.72 239.18,523.42 239.86,522.13 240.54,520.83 241.2,519.53 241.86,518.23 242.51,516.92 243.16,515.61 243.8,514.3 244.43,512.99 245.05,511.67 245.67,510.35 246.28,509.03 246.89,507.71 247.48,506.38 248.07,505.05 248.66,503.72 249.24,502.39 249.81,501.05 250.37,499.71 250.93,498.37 251.49,497.03 252.03,495.69 252.58,494.34 253.11,492.99 253.64,491.64 254.16,490.28 254.68,488.93 255.19,487.57 255.7,486.21 256.2,484.85 256.7,483.48 257.19,482.12 257.67,480.75 258.15,479.38 258.62,478.01 259.09,476.64 259.55,475.26 260.01,473.89 260.46,472.51 260.91,471.13 261.36,469.74 261.79,468.36 262.23,466.98 262.66,465.59 263.08,464.2 263.5,462.81 263.92,461.42 264.33,460.03 264.73,458.63 265.13,457.24 265.53,455.84 265.92,454.44 266.31,453.04 266.7,451.64 267.08,450.24 267.46,448.83 267.83,447.43 268.2,446.02 268.56,444.62 268.93,443.21 269.28,441.8 269.64,440.39 269.99,438.98 270.34,437.56 270.68,436.15 271.02,434.73 271.36,433.32 271.69,431.9 272.02,430.49 272.35,429.07 272.68,427.65 273,426.23 273.32,424.81 273.63,423.39 273.94,421.96 274.25,420.54 274.56,419.12 274.87,417.7 275.17,416.27 275.47,414.85 275.77,413.42 276.06,411.99 276.36,410.57 276.65,409.14 276.93,407.71 277.22,406.29 277.5,404.86 277.79,403.43 278.07,402 278.35,400.57 278.62,399.14 278.9,397.71 279.17,396.28 279.44,394.85 279.71,393.42 279.98,391.99 280.25,390.56 280.51,389.13 280.78,387.7 281.04,386.27 281.3,384.84 281.56,383.41 281.82,381.98 282.08,380.55 282.34,379.13 282.59,377.7 282.85,376.27 283.11,374.84 283.36,373.41 283.61,371.98 283.87,370.55 284.12,369.13 284.37,367.7 284.62,366.27 284.88,364.85 285.13,363.42 285.38,362 285.45,499.28 285.03,499.86 284.61,500.44 284.19,501.02 283.77,501.6 283.35,502.17 282.92,502.75 282.49,503.32 282.05,503.89 281.62,504.47 281.18,505.04 280.74,505.6 280.3,506.17 279.86,506.74 279.41,507.3 278.96,507.86 278.51,508.42 278.06,508.98 277.6,509.54 277.14,510.1 276.68,510.65 276.22,511.2 275.75,511.75 275.28,512.3 274.81,512.85 274.34,513.4 273.87,513.94 273.39,514.48 272.91,515.02 272.43,515.56 271.94,516.09 271.46,516.63 270.97,517.16 270.48,517.69 269.98,518.21 269.49,518.74 268.99,519.26 268.49,519.78 267.98,520.3 267.48,520.81 266.97,521.32 266.46,521.83 265.95,522.34 265.43,522.85 264.91,523.35 264.39,523.85 263.87,524.35 263.35,524.84 262.82,525.33 262.29,525.82 261.76,526.31 261.22,526.79 260.69,527.27 260.15,527.75 259.61,528.23 259.06,528.7 258.52,529.17 257.97,529.63 257.42,530.09 256.86,530.55 256.31,531.01 255.75,531.46 255.19,531.91 254.63,532.36 254.06,532.8 253.49,533.24 252.92,533.68 252.35,534.11 251.78,534.54 251.2,534.97 250.62,535.39 250.04,535.81 249.45,536.23 248.87,536.64 248.28,537.05 247.69,537.45 247.09,537.85 246.5,538.25 245.9,538.64 245.3,539.03 244.69,539.42 244.09,539.8 243.48,540.18 242.87,540.55 242.26,540.92 241.65,541.29 241.03,541.66 240.41,542.03 239.8,542.39 239.18,542.76 238.56,543.12 237.95,543.48 237.33,543.85 236.71,544.21 236.09,544.57 235.48,544.94 234.86,545.31 234.25,545.68 233.63,546.05 233.02,546.42 232.41,546.8 231.8,547.19 231.2,547.57 230.59,547.96 229.99,548.35 229.39,548.75 228.79,549.14 228.19,549.54 227.59,549.94 226.99,550.34 226.39,550.75 225.8,551.15 225.2,551.56 224.6,551.96 224.01,552.36 223.41,552.77 222.81,553.17 222.21,553.57 221.61,553.97 221.01,554.37 220.41,554.77 219.81,555.16 219.2,555.55 218.6,555.94 217.99,556.32 217.38,556.71 216.77,557.08 216.15,557.45 215.53,557.82 214.91,558.18 214.29,558.54 213.66,558.89 213.03,559.23 212.4,559.56 211.76,559.88 211.12,560.2 210.48,560.5 209.83,560.8 209.18,561.09 208.53,561.36 207.87,561.62 207.2,561.88 206.54,562.12 205.86,562.34 205.18,562.55 204.5,562.75 203.81,562.94 203.12,563.1 202.42,563.26 201.72,563.39 201.01,563.51 200.29,563.62 199.57,563.7 198.84,563.77 198.11,563.82 197.37,563.85 196.62,563.86 195.87,563.85 195.11,563.81 194.44,564 193.67,564.17 192.9,564.33 192.13,564.5 191.36,564.66 190.59,564.81 189.82,564.97 189.05,565.13 188.27,565.28 187.5,565.43 186.73,565.58 185.96,565.72 185.19,565.87 184.41,566.01 183.64,566.15 182.87,566.29 182.09,566.43 181.32,566.56 180.54,566.7 179.77,566.83 178.99,566.96 178.22,567.09 177.44,567.21 176.67,567.34 175.89,567.46 175.12,567.58 174.34,567.7 173.56,567.82 172.79,567.94 172.01,568.05 171.23,568.17 170.45,568.28 169.68,568.39 168.9,568.5 168.12,568.61 167.34,568.71 166.56,568.82 165.78,568.92 165,569.02 164.23,569.12 163.45,569.22 162.67,569.32 161.89,569.42 161.11,569.51 160.33,569.61 159.55,569.7 158.76,569.79 157.98,569.88 157.2,569.97 156.42,570.06 155.64,570.15 154.86,570.23 154.08,570.32 153.3,570.4 152.51,570.49 151.73,570.57 150.95,570.65 150.17,570.73 149.38,570.81 148.6,570.89 147.82,570.96 147.04,571.04 146.25,571.12 145.47,571.19 144.69,571.26 143.9,571.34 143.12,571.41 142.34,571.48 141.55,571.55 140.77,571.62 139.98,571.69 139.2,571.76 138.42,571.83 137.63,571.9 136.85,571.96 136.06,572.03 135.28,572.1 134.49,572.16 133.71,572.23 132.92,572.29 132.14,572.35 131.36,572.42 130.57,572.48 129.79,572.54 129,572.61 128.22,572.67 127.43,572.73 126.65,572.79 125.86,572.85 125.07,572.91 124.29,572.97 123.5,573.03 122.72,573.09 121.93,573.15 121.15,573.21 120.36,573.27 119.58,573.33 118.79,573.39 118.01,573.45 117.22,573.51 116.44,573.57 115.65,573.63 114.87,573.69 114.08,573.75 113.29,573.81 112.51,573.87 111.72,573.92 110.94,573.98 110.15,574.04 109.37,574.1 108.58,574.16 107.8,574.22 107.01,574.29 106.23,574.35 105.44,574.41 104.66,574.47 103.87,574.53 103.09,574.59 102.3,574.65 101.52,574.72 100.73,574.78 99.95,574.84 99.16,574.91 98.38,574.97 97.59,575.04 96.81,575.1 96.03,575.17 95.24,575.24 94.46,575.3 93.67,575.37 92.89,575.44 92.11,575.51 91.32,575.58 90.54,575.65 89.76,575.72 88.97,575.79 88.19,575.86 87.41,575.94 86.62,576.01 85.84,576.09 85.06,576.16 84.27,576.24 83.49,576.32 82.71,576.39 81.93,576.47 81.15,576.55 80.36,576.64 79.58,576.72 78.8,576.8 78.02,576.88 77.24,576.97 76.46,577.06 75.68,577.14 74.9,577.23 74.12,577.32 73.33,577.41 72.55,577.51 71.77,577.6 70.99,577.69 70.22,577.79" fill="rgba(222,90,88,0.25)" stroke="rgba(222,90,88,0.25)" stroke-width="0.7"/>
<polyline points="70.2,565.32 70.98,565.3 71.76,565.29 72.54,565.27 73.32,565.26 74.1,565.25 74.89,565.24 75.67,565.23 76.45,565.22 77.23,565.21 78.01,565.21 78.79,565.2 79.57,565.2 80.35,565.19 81.13,565.19 81.91,565.19 82.7,565.19 83.48,565.19 84.26,565.19 85.04,565.19 85.82,565.19 86.6,565.19 87.38,565.2 88.16,565.2 88.95,565.2 89.73,565.21 90.51,565.22 91.29,565.22 92.07,565.23 92.85,565.24 93.64,565.24 94.42,565.25 95.2,565.26 95.98,565.27 96.76,565.28 97.54,565.29 98.33,565.3 99.11,565.31 99.89,565.33 100.67,565.34 101.45,565.35 102.24,565.36 103.02,565.38 103.8,565.39 104.58,565.4 105.36,565.42 106.15,565.43 106.93,565.45 107.71,565.46 108.49,565.48 109.27,565.49 110.06,565.51 110.84,565.52 111.62,565.54 112.4,565.55 113.18,565.57 113.97,565.58 114.75,565.6 115.53,565.61 116.31,565.63 117.09,565.65 117.88,565.66 118.66,565.68 119.44,565.69 120.22,565.71 121.01,565.72 121.79,565.74 122.57,565.75 123.35,565.77 124.13,565.78 124.92,565.8 125.7,565.81 126.48,565.82 127.26,565.84 128.04,565.85 128.83,565.86 129.61,565.88 130.39,565.89 131.17,565.9 131.95,565.91 132.74,565.92 133.52,565.93 134.3,565.94 135.08,565.95 135.86,565.96 136.65,565.97 137.43,565.98 138.21,565.99 138.99,565.99 139.77,566 140.56,566.01 141.34,566.01 142.12,566.02 142.9,566.02 143.68,566.02 144.46,566.03 145.25,566.03 146.03,566.03 146.81,566.03 147.59,566.03 148.37,566.03 149.15,566.03 149.94,566.02 150.72,566.02 151.5,566.01 152.28,566.01 153.06,566 153.84,566 154.62,565.99 155.41,565.98 156.19,565.97 156.97,565.96 157.75,565.94 158.53,565.93 159.31,565.92 160.09,565.9 160.87,565.89 161.66,565.87 162.44,565.85 163.22,565.83 164,565.81 164.78,565.79 165.56,565.76 166.34,565.74 167.12,565.71 167.9,565.68 168.68,565.66 169.46,565.63 170.24,565.59 171.02,565.56 171.8,565.53 172.58,565.49 173.36,565.46 174.14,565.42 174.92,565.38 175.7,565.34 176.48,565.29 177.26,565.25 178.04,565.21 178.82,565.16 179.6,565.11 180.38,565.06 181.16,565.01 181.94,564.95 182.72,564.9 183.5,564.84 184.28,564.78 185.06,564.72 185.84,564.66 186.62,564.6 187.4,564.53 188.18,564.47 188.96,564.4 189.73,564.33 190.51,564.25 191.29,564.18 192.07,564.1 192.85,564.03 193.63,563.95 194.41,563.86 195.44,563.83 196.43,563.67 197.41,563.49 198.37,563.28 199.33,563.05 200.28,562.8 201.22,562.53 202.15,562.24 203.08,561.93 203.99,561.61 204.9,561.26 205.79,560.9 206.69,560.52 207.57,560.13 208.44,559.72 209.31,559.29 210.18,558.85 211.03,558.39 211.88,557.93 212.72,557.45 213.56,556.96 214.39,556.45 215.22,555.94 216.04,555.41 216.85,554.88 217.66,554.34 218.47,553.79 219.27,553.23 220.07,552.66 220.86,552.08 221.65,551.5 222.43,550.91 223.21,550.31 223.98,549.71 224.75,549.09 225.52,548.47 226.27,547.85 227.03,547.21 227.78,546.57 228.52,545.93 229.26,545.27 230,544.61 230.73,543.95 231.45,543.28 232.17,542.6 232.89,541.92 233.6,541.23 234.3,540.53 235,539.83 235.7,539.12 236.39,538.41 237.07,537.7 237.75,536.98 238.42,536.25 239.09,535.52 239.76,534.78 240.41,534.04 241.07,533.3 241.71,532.55 242.36,531.8 242.99,531.04 243.63,530.28 244.25,529.51 244.87,528.75 245.49,527.97 246.1,527.2 246.7,526.42 247.3,525.64 247.89,524.85 248.48,524.06 249.06,523.27 249.64,522.48 250.21,521.68 250.78,520.88 251.34,520.08 251.9,519.27 252.45,518.47 252.99,517.65 253.54,516.84 254.07,516.02 254.6,515.2 255.13,514.38 255.65,513.55 256.17,512.73 256.68,511.9 257.19,511.06 257.69,510.23 258.19,509.39 258.69,508.55 259.18,507.71 259.66,506.86 260.14,506.01 260.62,505.16 261.09,504.31 261.56,503.46 262.03,502.6 262.49,501.74 262.94,500.88 263.4,500.01 263.84,499.15 264.29,498.28 264.73,497.41 265.17,496.54 265.6,495.66 266.03,494.79 266.46,493.91 266.88,493.03 267.3,492.15 267.72,491.27 268.13,490.38 268.54,489.49 268.95,488.6 269.35,487.71 269.75,486.82 270.15,485.93 270.54,485.03 270.93,484.13 271.32,483.23 271.7,482.33 272.09,481.43 272.47,480.53 272.84,479.62 273.22,478.72 273.59,477.81 273.96,476.9 274.32,475.99 274.69,475.08 275.05,474.16 275.41,473.25 275.76,472.33 276.12,471.42 276.47,470.5 276.82,469.58 277.17,468.66 277.52,467.74 277.86,466.82 278.2,465.89 278.54,464.97 278.88,464.05 279.22,463.12 279.55,462.19 279.89,461.27 280.22,460.34 280.55,459.41 280.88,458.48 281.2,457.55 281.53,456.62 281.85,455.69 282.18,454.75 282.5,453.82 282.82,452.89 283.14,451.95 283.46,451.02 283.77,450.08 284.09,449.15 284.4,448.21 284.72,447.28 285.03,446.34 285.35,445.4" fill="none" stroke="#ec96a8" stroke-width="1.5" stroke-linejoin="round"/>
</g>
<circle cx="194.4" cy="563.85" r="3.2" fill="#e3161b"/>
<line x1="194.7" y1="344.6" x2="194.7" y2="596.1" stroke="#000" stroke-opacity="0.82" stroke-width="1.1" stroke-dasharray="4.0 2.7"/>
<path d="M283.0,344.6 H55.3 V596.1 H283.0" fill="none" stroke="#2b2b2b" stroke-width="1.1"/>
<line x1="283.0" y1="344.05" x2="283.0" y2="596.65" stroke="#9a9a9a" stroke-width="1.8"/>
<line x1="63.5" y1="596.1" x2="63.5" y2="604.7" stroke="#2b2b2b" stroke-width="1.1"/>
<text x="63" y="618.6" text-anchor="middle" font-size="17">3</text>
<line x1="105.73" y1="596.1" x2="105.73" y2="604.7" stroke="#2b2b2b" stroke-width="1.1"/>
<text x="105.73" y="618.6" text-anchor="middle" font-size="17">4</text>
<line x1="147.96" y1="596.1" x2="147.96" y2="604.7" stroke="#2b2b2b" stroke-width="1.1"/>
<text x="147.96" y="618.6" text-anchor="middle" font-size="17">5</text>
<line x1="190.19" y1="596.1" x2="190.19" y2="604.7" stroke="#2b2b2b" stroke-width="1.1"/>
<text x="190.19" y="618.6" text-anchor="middle" font-size="17">6</text>
<line x1="232.42" y1="596.1" x2="232.42" y2="604.7" stroke="#2b2b2b" stroke-width="1.1"/>
<text x="232.42" y="618.6" text-anchor="middle" font-size="17">7</text>
<line x1="274.65" y1="596.1" x2="274.65" y2="604.7" stroke="#2b2b2b" stroke-width="1.1"/>
<text x="274.25" y="618.6" text-anchor="middle" font-size="17">8</text>
<line x1="46.7" y1="587.3" x2="55.3" y2="587.3" stroke="#2b2b2b" stroke-width="1.1"/>
<text x="43.8" y="584.5" text-anchor="middle" font-size="17" transform="rotate(-90 43.8 584.5)">0</text>
<line x1="46.7" y1="540.54" x2="55.3" y2="540.54" stroke="#2b2b2b" stroke-width="1.1"/>
<text x="43.8" y="541.54" text-anchor="middle" font-size="17" transform="rotate(-90 43.8 541.54)">2</text>
<line x1="46.7" y1="493.78" x2="55.3" y2="493.78" stroke="#2b2b2b" stroke-width="1.1"/>
<text x="43.8" y="495.28" text-anchor="middle" font-size="17" transform="rotate(-90 43.8 495.28)">4</text>
<line x1="46.7" y1="447.02" x2="55.3" y2="447.02" stroke="#2b2b2b" stroke-width="1.1"/>
<text x="43.8" y="448.02" text-anchor="middle" font-size="17" transform="rotate(-90 43.8 448.02)">6</text>
<line x1="46.7" y1="400.26" x2="55.3" y2="400.26" stroke="#2b2b2b" stroke-width="1.1"/>
<text x="43.8" y="401.26" text-anchor="middle" font-size="17" transform="rotate(-90 43.8 401.26)">8</text>
<line x1="46.7" y1="353.5" x2="55.3" y2="353.5" stroke="#2b2b2b" stroke-width="1.1"/>
<text x="43.8" y="349.9" text-anchor="middle" font-size="17" transform="rotate(-90 43.8 349.9)">10</text>
<line x1="283.0" y1="587.3" x2="291.5" y2="587.3" stroke="#2b2b2b" stroke-width="1.1"/>
<text x="307.6" y="587.3" text-anchor="middle" font-size="17" transform="rotate(-90 307.6 587.3)">0</text>
<line x1="283.0" y1="548.33" x2="291.5" y2="548.33" stroke="#2b2b2b" stroke-width="1.1"/>
<line x1="283.0" y1="509.37" x2="291.5" y2="509.37" stroke="#2b2b2b" stroke-width="1.1"/>
<text x="307.6" y="511.67" text-anchor="middle" font-size="17" transform="rotate(-90 307.6 511.67)">1000</text>
<line x1="283.0" y1="470.4" x2="291.5" y2="470.4" stroke="#2b2b2b" stroke-width="1.1"/>
<line x1="283.0" y1="431.43" x2="291.5" y2="431.43" stroke="#2b2b2b" stroke-width="1.1"/>
<text x="307.6" y="437.73" text-anchor="middle" font-size="17" transform="rotate(-90 307.6 437.73)">2000</text>
<line x1="283.0" y1="392.47" x2="291.5" y2="392.47" stroke="#2b2b2b" stroke-width="1.1"/>
<line x1="283.0" y1="353.5" x2="291.5" y2="353.5" stroke="#2b2b2b" stroke-width="1.1"/>
<text x="307.6" y="363.2" text-anchor="middle" font-size="17" transform="rotate(-90 307.6 363.2)">3000</text>
<text x="169.3" y="636" text-anchor="middle" font-size="17">Log-SII</text>
<text x="16.6" y="472.6" text-anchor="middle" font-size="17" transform="rotate(-90 16.6 472.6)">HR(95%CI)</text>
<text x="336.4" y="469.5" text-anchor="middle" font-size="17" transform="rotate(-90 336.4 469.5)">Population</text>
<text x="85.55" y="377.5" font-size="16.7"><tspan font-style="italic">P</tspan> for non-linear &lt;0.001</text>
<text x="2.6" y="345.8" font-size="22">C</text>
<g clip-path="url(#clipD)">
<rect x="403.03" y="585.74" width="8.57" height="0.31" fill="#84c4e1"/>
<rect x="412.6" y="585.2" width="8.57" height="0.85" fill="#84c4e1"/>
<rect x="422.17" y="583.02" width="8.57" height="3.03" fill="#84c4e1"/>
<rect x="431.74" y="579.84" width="8.57" height="6.21" fill="#84c4e1"/>
<rect x="441.31" y="573.33" width="8.57" height="12.72" fill="#84c4e1"/>
<rect x="450.88" y="561.69" width="8.57" height="24.36" fill="#84c4e1"/>
<rect x="460.45" y="543.53" width="8.57" height="42.52" fill="#84c4e1"/>
<rect x="470.02" y="512.58" width="8.57" height="73.47" fill="#84c4e1"/>
<rect x="479.59" y="478.21" width="8.57" height="107.84" fill="#84c4e1"/>
<rect x="489.16" y="440.81" width="8.57" height="145.24" fill="#84c4e1"/>
<rect x="498.73" y="398.84" width="8.57" height="187.21" fill="#84c4e1"/>
<rect x="508.3" y="404.27" width="8.57" height="181.78" fill="#84c4e1"/>
<rect x="517.87" y="417.69" width="8.57" height="168.36" fill="#84c4e1"/>
<rect x="527.44" y="457.42" width="8.57" height="128.63" fill="#84c4e1"/>
<rect x="537.01" y="495.12" width="8.57" height="90.93" fill="#84c4e1"/>
<rect x="546.58" y="522.51" width="8.57" height="63.54" fill="#84c4e1"/>
<rect x="556.15" y="552.61" width="8.57" height="33.44" fill="#84c4e1"/>
<rect x="565.72" y="567.97" width="8.57" height="18.08" fill="#84c4e1"/>
<rect x="575.29" y="576.82" width="8.57" height="9.23" fill="#84c4e1"/>
<rect x="584.86" y="581.86" width="8.57" height="4.19" fill="#84c4e1"/>
<rect x="594.43" y="583.26" width="8.57" height="2.79" fill="#84c4e1"/>
<rect x="604" y="585.35" width="8.57" height="0.7" fill="#84c4e1"/>
<polygon points="403.99,549.01 404.63,549.15 405.27,549.29 405.91,549.43 406.55,549.57 407.19,549.71 407.83,549.85 408.47,549.99 409.11,550.14 409.76,550.28 410.4,550.42 411.04,550.56 411.68,550.7 412.32,550.84 412.96,550.99 413.61,551.13 414.25,551.27 414.89,551.41 415.53,551.56 416.18,551.7 416.82,551.84 417.46,551.98 418.11,552.12 418.75,552.26 419.39,552.41 420.04,552.55 420.68,552.69 421.32,552.83 421.97,552.97 422.61,553.11 423.26,553.25 423.9,553.39 424.55,553.53 425.19,553.67 425.84,553.81 426.48,553.95 427.13,554.09 427.77,554.23 428.42,554.36 429.06,554.5 429.71,554.64 430.35,554.78 431,554.91 431.65,555.05 432.29,555.18 432.94,555.32 433.58,555.45 434.23,555.58 434.88,555.72 435.53,555.85 436.17,555.98 436.82,556.11 437.47,556.24 438.11,556.37 438.76,556.5 439.41,556.63 440.06,556.76 440.71,556.89 441.35,557.01 442,557.14 442.65,557.27 443.3,557.39 443.95,557.51 444.6,557.64 445.25,557.76 445.89,557.88 446.54,558 447.19,558.12 447.84,558.24 448.49,558.35 449.14,558.47 449.79,558.58 450.44,558.7 451.09,558.81 451.74,558.92 452.39,559.04 453.04,559.15 453.69,559.26 454.35,559.36 455,559.47 455.65,559.58 456.3,559.68 456.95,559.79 457.6,559.89 458.25,559.99 458.91,560.09 459.56,560.19 460.21,560.29 460.86,560.38 461.51,560.48 462.17,560.57 462.82,560.66 463.47,560.75 464.12,560.84 464.78,560.93 465.43,561.02 466.08,561.1 466.74,561.19 467.39,561.27 468.04,561.35 468.7,561.43 469.35,561.51 470.01,561.59 470.66,561.66 471.31,561.74 471.97,561.81 472.62,561.88 473.28,561.95 473.93,562.02 474.59,562.08 475.24,562.14 475.9,562.21 476.55,562.27 477.21,562.33 477.86,562.38 478.52,562.44 479.18,562.49 479.83,562.55 480.49,562.6 481.14,562.64 481.8,562.69 482.46,562.74 483.11,562.78 483.77,562.82 484.43,562.86 485.08,562.9 485.74,562.93 486.4,562.96 487.06,562.99 487.71,563.02 488.37,563.05 489.03,563.08 489.69,563.1 490.34,563.12 491,563.14 491.66,563.16 492.32,563.17 492.98,563.18 493.64,563.2 494.29,563.2 494.95,563.21 495.61,563.21 496.27,563.22 496.93,563.22 497.59,563.21 498.25,563.21 498.91,563.2 499.57,563.19 500.23,563.18 500.89,563.17 501.55,563.15 502.21,563.13 502.87,563.11 503.53,563.09 504.19,563.06 504.85,563.03 505.51,563 506.17,562.97 506.83,562.93 507.5,562.89 509.2,562.03 510.89,561.2 512.59,560.37 514.29,559.52 515.99,558.66 517.69,557.79 519.38,556.91 521.07,556.01 522.75,555.09 524.42,554.16 526.07,553.2 527.71,552.23 529.34,551.23 530.94,550.2 532.53,549.15 534.09,548.07 535.63,546.96 537.14,545.82 538.61,544.65 540.06,543.44 541.48,542.2 542.85,540.91 544.19,539.59 545.49,538.23 546.75,536.83 547.96,535.38 549.14,533.9 550.27,532.38 551.38,530.83 552.45,529.25 553.5,527.66 554.53,526.04 555.54,524.42 556.53,522.79 557.52,521.15 558.48,519.51 559.44,517.86 560.38,516.2 561.3,514.53 562.22,512.86 563.11,511.18 564,509.5 564.87,507.81 565.72,506.11 566.56,504.4 567.39,502.68 568.2,500.96 568.99,499.23 569.77,497.5 570.53,495.76 571.28,494.01 572,492.25 572.71,490.49 573.39,488.72 574.06,486.95 574.71,485.16 575.34,483.38 575.96,481.58 576.56,479.79 577.15,477.98 577.73,476.18 578.3,474.37 578.85,472.55 579.4,470.74 579.93,468.92 580.46,467.09 580.99,465.27 581.51,463.44 582.02,461.61 582.53,459.78 583.04,457.95 583.55,456.12 584.06,454.29 584.57,452.46 585.08,450.63 585.6,448.8 586.12,446.97 586.64,445.14 587.16,443.31 587.69,441.49 588.22,439.66 588.75,437.83 589.28,436.01 589.81,434.18 590.33,432.35 590.86,430.53 591.39,428.7 591.91,426.88 592.44,425.05 592.96,423.22 593.47,421.39 593.99,419.56 594.5,417.73 595,415.9 595.5,414.07 595.99,412.23 596.48,410.4 596.96,408.56 597.43,406.72 597.9,404.88 598.36,403.04 598.81,401.2 599.26,399.35 599.7,397.5 600.13,395.66 600.56,393.81 600.97,391.95 601.39,390.1 601.8,388.25 602.2,386.39 602.59,384.53 602.98,382.68 603.37,380.82 603.75,378.95 604.12,377.09 604.49,375.23 604.85,373.36 605.21,371.5 605.56,369.63 605.91,367.77 606.25,365.9 606.59,364.03 606.93,362.16 607.26,360.28 607.58,358.41 607.91,356.54 608.23,354.67 608.54,352.79 608.85,350.92 609.16,349.04 609.46,347.16 609.76,345.29 610.06,343.41 610.36,341.53 610.65,339.65 610.94,337.77 611.22,335.89 611.51,334.01 611.79,332.13 612.07,330.25 612.34,328.37 612.62,326.49 612.89,324.61 613.16,322.72 613.43,320.84 613.7,318.96 613.96,317.08 614.23,315.19 614.49,313.31 614.75,311.43 615.02,309.55 615.28,307.67 615.53,305.78 615.79,303.9 616.05,302.02 616.31,300.14 616.57,298.26 616.83,296.38 617.08,294.5 616.86,472.43 616.41,473.21 615.95,473.99 615.49,474.76 615.03,475.54 614.56,476.32 614.09,477.09 613.62,477.87 613.15,478.64 612.67,479.42 612.19,480.19 611.71,480.96 611.22,481.74 610.73,482.51 610.24,483.28 609.75,484.05 609.25,484.82 608.75,485.58 608.25,486.35 607.74,487.12 607.23,487.88 606.72,488.64 606.2,489.4 605.69,490.17 605.16,490.92 604.64,491.68 604.11,492.44 603.58,493.19 603.05,493.95 602.52,494.7 601.98,495.45 601.44,496.2 600.89,496.95 600.34,497.69 599.79,498.43 599.24,499.18 598.68,499.92 598.12,500.65 597.56,501.39 597,502.12 596.43,502.86 595.86,503.59 595.28,504.32 594.71,505.04 594.13,505.76 593.55,506.49 592.96,507.21 592.37,507.92 591.78,508.64 591.18,509.35 590.59,510.06 589.99,510.77 589.38,511.47 588.78,512.17 588.17,512.87 587.55,513.57 586.94,514.26 586.32,514.96 585.7,515.64 585.07,516.33 584.45,517.01 583.82,517.69 583.18,518.37 582.55,519.04 581.91,519.71 581.27,520.38 580.62,521.05 579.97,521.71 579.32,522.37 578.67,523.02 578.01,523.67 577.35,524.32 576.69,524.97 576.02,525.61 575.35,526.25 574.68,526.88 574,527.51 573.33,528.14 572.65,528.76 571.96,529.38 571.27,530 570.58,530.61 569.89,531.22 569.2,531.82 568.5,532.42 567.79,533.02 567.09,533.61 566.38,534.2 565.67,534.79 564.96,535.37 564.24,535.94 563.52,536.51 562.8,537.08 562.07,537.65 561.34,538.2 560.61,538.76 559.87,539.31 559.13,539.85 558.39,540.4 557.65,540.93 556.9,541.46 556.15,541.99 555.4,542.51 554.64,543.03 553.88,543.54 553.12,544.05 552.35,544.56 551.59,545.05 550.81,545.55 550.04,546.04 549.26,546.52 548.48,547 547.7,547.47 546.91,547.94 546.12,548.4 545.33,548.86 544.53,549.31 543.73,549.76 542.93,550.2 542.13,550.63 541.32,551.06 540.51,551.49 539.69,551.91 538.88,552.32 538.06,552.73 537.23,553.13 536.41,553.53 535.58,553.92 534.75,554.3 533.91,554.68 533.07,555.05 532.23,555.42 531.38,555.78 530.54,556.14 529.69,556.49 528.83,556.83 527.98,557.16 527.12,557.5 526.25,557.82 525.39,558.14 524.52,558.45 523.65,558.75 522.77,559.05 521.89,559.34 521.01,559.63 520.13,559.91 519.24,560.18 518.35,560.44 517.45,560.7 516.56,560.95 515.66,561.2 514.75,561.44 513.85,561.67 512.94,561.89 512.03,562.11 511.11,562.32 510.19,562.53 509.27,562.72 508.35,562.91 507.5,562.86 506.86,562.99 506.21,563.12 505.57,563.24 504.92,563.37 504.27,563.5 503.63,563.63 502.98,563.76 502.34,563.88 501.69,564.01 501.05,564.14 500.4,564.27 499.75,564.39 499.11,564.52 498.46,564.65 497.81,564.77 497.17,564.9 496.52,565.02 495.87,565.15 495.23,565.28 494.58,565.4 493.93,565.53 493.29,565.65 492.64,565.77 491.99,565.9 491.34,566.02 490.7,566.15 490.05,566.27 489.4,566.39 488.75,566.52 488.11,566.64 487.46,566.76 486.81,566.88 486.16,567 485.51,567.13 484.87,567.25 484.22,567.37 483.57,567.49 482.92,567.61 482.27,567.73 481.62,567.85 480.98,567.97 480.33,568.08 479.68,568.2 479.03,568.32 478.38,568.44 477.73,568.55 477.08,568.67 476.43,568.79 475.79,568.9 475.14,569.02 474.49,569.13 473.84,569.25 473.19,569.36 472.54,569.48 471.89,569.59 471.24,569.7 470.59,569.82 469.94,569.93 469.29,570.04 468.64,570.15 467.99,570.26 467.34,570.37 466.69,570.48 466.04,570.59 465.39,570.7 464.74,570.81 464.09,570.92 463.44,571.02 462.79,571.13 462.14,571.24 461.49,571.34 460.84,571.45 460.19,571.55 459.54,571.65 458.89,571.76 458.24,571.86 457.59,571.96 456.94,572.06 456.29,572.17 455.64,572.27 454.99,572.37 454.34,572.47 453.69,572.57 453.04,572.66 452.38,572.76 451.73,572.86 451.08,572.95 450.43,573.05 449.78,573.15 449.13,573.24 448.48,573.33 447.83,573.43 447.18,573.52 446.53,573.61 445.87,573.7 445.22,573.79 444.57,573.88 443.92,573.97 443.27,574.06 442.62,574.15 441.97,574.23 441.31,574.32 440.66,574.4 440.01,574.49 439.36,574.57 438.71,574.65 438.05,574.73 437.4,574.81 436.75,574.89 436.1,574.97 435.44,575.05 434.79,575.12 434.14,575.2 433.49,575.27 432.83,575.35 432.18,575.42 431.53,575.49 430.87,575.57 430.22,575.64 429.57,575.71 428.91,575.78 428.26,575.85 427.61,575.92 426.95,575.99 426.3,576.06 425.64,576.12 424.99,576.19 424.34,576.26 423.68,576.32 423.03,576.39 422.37,576.45 421.72,576.52 421.06,576.58 420.41,576.64 419.75,576.71 419.1,576.77 418.44,576.83 417.79,576.9 417.13,576.96 416.47,577.02 415.82,577.08 415.16,577.14 414.51,577.2 413.85,577.26 413.19,577.32 412.54,577.38 411.88,577.44 411.22,577.5 410.57,577.56 409.91,577.62 409.25,577.68 408.6,577.74 407.94,577.8 407.28,577.86 406.63,577.92 405.97,577.98 405.31,578.04 404.65,578.1 403.99,578.16" fill="rgba(222,90,88,0.25)" stroke="rgba(222,90,88,0.25)" stroke-width="0.7"/>
<polyline points="404,568.54 404.65,568.48 405.3,568.43 405.95,568.38 406.61,568.33 407.26,568.29 407.91,568.24 408.56,568.2 409.21,568.15 409.86,568.11 410.51,568.07 411.16,568.03 411.81,567.99 412.46,567.96 413.11,567.92 413.77,567.89 414.42,567.85 415.07,567.82 415.72,567.79 416.37,567.76 417.02,567.73 417.68,567.7 418.33,567.68 418.98,567.65 419.63,567.62 420.28,567.6 420.93,567.58 421.59,567.56 422.24,567.53 422.89,567.51 423.54,567.49 424.2,567.47 424.85,567.46 425.5,567.44 426.15,567.42 426.81,567.41 427.46,567.39 428.11,567.38 428.76,567.36 429.42,567.35 430.07,567.33 430.72,567.32 431.37,567.31 432.03,567.3 432.68,567.29 433.33,567.28 433.98,567.27 434.64,567.26 435.29,567.25 435.94,567.24 436.6,567.23 437.25,567.22 437.9,567.21 438.55,567.21 439.21,567.2 439.86,567.19 440.51,567.18 441.17,567.18 441.82,567.17 442.47,567.16 443.12,567.16 443.78,567.15 444.43,567.14 445.08,567.14 445.74,567.13 446.39,567.12 447.04,567.12 447.69,567.11 448.35,567.1 449,567.1 449.65,567.09 450.31,567.08 450.96,567.07 451.61,567.07 452.26,567.06 452.92,567.05 453.57,567.04 454.22,567.03 454.87,567.02 455.53,567.01 456.18,567 456.83,566.99 457.48,566.98 458.14,566.97 458.79,566.96 459.44,566.95 460.09,566.93 460.75,566.92 461.4,566.9 462.05,566.89 462.7,566.87 463.36,566.86 464.01,566.84 464.66,566.82 465.31,566.81 465.96,566.79 466.62,566.77 467.27,566.75 467.92,566.72 468.57,566.7 469.22,566.68 469.87,566.65 470.53,566.63 471.18,566.6 471.83,566.58 472.48,566.55 473.13,566.52 473.78,566.49 474.43,566.46 475.08,566.43 475.74,566.39 476.39,566.36 477.04,566.32 477.69,566.28 478.34,566.25 478.99,566.21 479.64,566.17 480.29,566.12 480.94,566.08 481.59,566.04 482.24,565.99 482.89,565.94 483.54,565.89 484.19,565.84 484.84,565.79 485.49,565.74 486.14,565.68 486.79,565.63 487.44,565.57 488.09,565.51 488.73,565.45 489.38,565.39 490.03,565.32 490.68,565.25 491.33,565.19 491.98,565.12 492.63,565.05 493.27,564.97 493.92,564.9 494.57,564.82 495.22,564.74 495.87,564.66 496.51,564.58 497.16,564.5 497.81,564.41 498.46,564.32 499.1,564.23 499.75,564.14 500.4,564.04 501.04,563.95 501.69,563.85 502.34,563.75 502.98,563.65 503.63,563.54 504.27,563.43 504.92,563.32 505.57,563.21 506.21,563.1 506.86,562.98 507.5,562.86 508.7,562.42 509.92,562.07 511.15,561.7 512.36,561.31 513.57,560.91 514.78,560.49 515.98,560.06 517.17,559.61 518.35,559.15 519.53,558.67 520.7,558.18 521.87,557.67 523.03,557.15 524.18,556.62 525.33,556.07 526.47,555.51 527.6,554.93 528.72,554.34 529.84,553.74 530.95,553.12 532.06,552.5 533.15,551.85 534.24,551.2 535.32,550.54 536.4,549.86 537.46,549.17 538.52,548.46 539.58,547.75 540.62,547.02 541.65,546.29 542.68,545.54 543.7,544.78 544.72,544.01 545.72,543.23 546.72,542.43 547.7,541.63 548.68,540.82 549.65,540 550.62,539.16 551.57,538.32 552.52,537.47 553.45,536.6 554.38,535.73 555.3,534.85 556.21,533.96 557.11,533.06 558,532.15 558.89,531.24 559.76,530.31 560.63,529.38 561.48,528.44 562.33,527.49 563.17,526.53 564,525.57 564.81,524.59 565.62,523.62 566.42,522.63 567.21,521.63 567.99,520.63 568.76,519.63 569.52,518.61 570.28,517.59 571.02,516.56 571.75,515.53 572.48,514.49 573.2,513.45 573.91,512.39 574.6,511.34 575.3,510.27 575.98,509.2 576.65,508.13 577.32,507.05 577.98,505.96 578.63,504.87 579.27,503.77 579.9,502.67 580.53,501.57 581.15,500.46 581.76,499.34 582.36,498.22 582.96,497.1 583.55,495.97 584.13,494.84 584.71,493.7 585.27,492.56 585.83,491.41 586.39,490.27 586.93,489.11 587.47,487.96 588.01,486.8 588.54,485.64 589.06,484.47 589.57,483.31 590.08,482.14 590.58,480.96 591.08,479.79 591.57,478.61 592.05,477.43 592.53,476.24 593,475.06 593.47,473.87 593.93,472.68 594.38,471.49 594.84,470.3 595.28,469.1 595.72,467.9 596.16,466.71 596.59,465.51 597.01,464.31 597.43,463.11 597.85,461.91 598.26,460.7 598.67,459.5 599.07,458.29 599.47,457.09 599.87,455.88 600.26,454.67 600.65,453.47 601.04,452.26 601.43,451.05 601.81,449.84 602.19,448.63 602.58,447.42 602.96,446.21 603.33,445 603.71,443.79 604.09,442.58 604.47,441.37 604.84,440.16 605.22,438.95 605.6,437.73 605.97,436.52 606.35,435.31 606.73,434.1 607.11,432.89 607.5,431.68 607.88,430.47 608.27,429.27 608.66,428.06 609.05,426.85 609.44,425.64 609.84,424.44 610.24,423.23 610.65,422.02 611.06,420.82 611.47,419.62 611.88,418.41 612.3,417.21 612.73,416.01 613.15,414.81 613.58,413.61 614.01,412.41 614.45,411.21 614.88,410.01 615.32,408.82 615.77,407.62 616.21,406.42 616.66,405.22 617.11,404.03" fill="none" stroke="#ec96a8" stroke-width="1.5" stroke-linejoin="round"/>
</g>
<circle cx="507.5" cy="562.85" r="3.2" fill="#e3161b"/>
<line x1="507.5" y1="344.4" x2="507.5" y2="595.2" stroke="#000" stroke-opacity="0.82" stroke-width="1.1" stroke-dasharray="4.0 2.7"/>
<rect x="403.5" y="344.4" width="227.2" height="250.8" fill="none" stroke="#2b2b2b" stroke-width="1.1"/>
<line x1="412.1" y1="595.2" x2="412.1" y2="603.6" stroke="#2b2b2b" stroke-width="1.1"/>
<text x="411.3" y="619.7" text-anchor="middle" font-size="17">-2</text>
<line x1="459.95" y1="595.2" x2="459.95" y2="603.6" stroke="#2b2b2b" stroke-width="1.1"/>
<text x="459.1" y="619.7" text-anchor="middle" font-size="17">-1</text>
<line x1="507.8" y1="595.2" x2="507.8" y2="603.6" stroke="#2b2b2b" stroke-width="1.1"/>
<text x="508.8" y="619.7" text-anchor="middle" font-size="17">0</text>
<line x1="555.65" y1="595.2" x2="555.65" y2="603.6" stroke="#2b2b2b" stroke-width="1.1"/>
<text x="560.6" y="619.7" text-anchor="middle" font-size="17">1</text>
<line x1="603.5" y1="595.2" x2="603.5" y2="603.6" stroke="#2b2b2b" stroke-width="1.1"/>
<text x="606.1" y="619.7" text-anchor="middle" font-size="17">2</text>
<line x1="395.3" y1="586.05" x2="403.5" y2="586.05" stroke="#2b2b2b" stroke-width="1.1"/>
<text x="392.7" y="583.15" text-anchor="middle" font-size="17" transform="rotate(-90 392.7 583.15)">0</text>
<line x1="395.3" y1="539.51" x2="403.5" y2="539.51" stroke="#2b2b2b" stroke-width="1.1"/>
<text x="392.7" y="539.81" text-anchor="middle" font-size="17" transform="rotate(-90 392.7 539.81)">2</text>
<line x1="395.3" y1="492.97" x2="403.5" y2="492.97" stroke="#2b2b2b" stroke-width="1.1"/>
<text x="392.7" y="492.67" text-anchor="middle" font-size="17" transform="rotate(-90 392.7 492.67)">4</text>
<line x1="395.3" y1="446.43" x2="403.5" y2="446.43" stroke="#2b2b2b" stroke-width="1.1"/>
<text x="392.7" y="446.23" text-anchor="middle" font-size="17" transform="rotate(-90 392.7 446.23)">6</text>
<line x1="395.3" y1="399.89" x2="403.5" y2="399.89" stroke="#2b2b2b" stroke-width="1.1"/>
<text x="392.7" y="399.19" text-anchor="middle" font-size="17" transform="rotate(-90 392.7 399.19)">8</text>
<line x1="395.3" y1="353.35" x2="403.5" y2="353.35" stroke="#2b2b2b" stroke-width="1.1"/>
<text x="392.7" y="348.35" text-anchor="middle" font-size="17" transform="rotate(-90 392.7 348.35)">10</text>
<line x1="630.7" y1="586.05" x2="639.1" y2="586.05" stroke="#2b2b2b" stroke-width="1.1"/>
<text x="656.2" y="585.55" text-anchor="middle" font-size="17" transform="rotate(-90 656.2 585.55)">0</text>
<line x1="630.7" y1="547.27" x2="639.1" y2="547.27" stroke="#2b2b2b" stroke-width="1.1"/>
<line x1="630.7" y1="508.48" x2="639.1" y2="508.48" stroke="#2b2b2b" stroke-width="1.1"/>
<text x="656.2" y="510.98" text-anchor="middle" font-size="17" transform="rotate(-90 656.2 510.98)">1000</text>
<line x1="630.7" y1="469.7" x2="639.1" y2="469.7" stroke="#2b2b2b" stroke-width="1.1"/>
<line x1="630.7" y1="430.92" x2="639.1" y2="430.92" stroke="#2b2b2b" stroke-width="1.1"/>
<text x="656.2" y="435.72" text-anchor="middle" font-size="17" transform="rotate(-90 656.2 435.72)">2000</text>
<line x1="630.7" y1="392.13" x2="639.1" y2="392.13" stroke="#2b2b2b" stroke-width="1.1"/>
<line x1="630.7" y1="353.35" x2="639.1" y2="353.35" stroke="#2b2b2b" stroke-width="1.1"/>
<text x="656.6" y="360.95" text-anchor="middle" font-size="17" transform="rotate(-90 656.6 360.95)">3000</text>
<text x="514" y="637.3" text-anchor="middle" font-size="17">Log-SIRI</text>
<text x="368.3" y="470.7" text-anchor="middle" font-size="17" transform="rotate(-90 368.3 470.7)">HR(95%CI)</text>
<text x="677.2" y="470.3" text-anchor="middle" font-size="17" transform="rotate(-90 677.2 470.3)">Population</text>
<text x="435.8" y="383.8" font-size="16.7"><tspan font-style="italic">P</tspan> for non-linear &lt;0.001</text>
<text x="346.8" y="344.6" font-size="22">D</text>
</svg>
</body></html>
